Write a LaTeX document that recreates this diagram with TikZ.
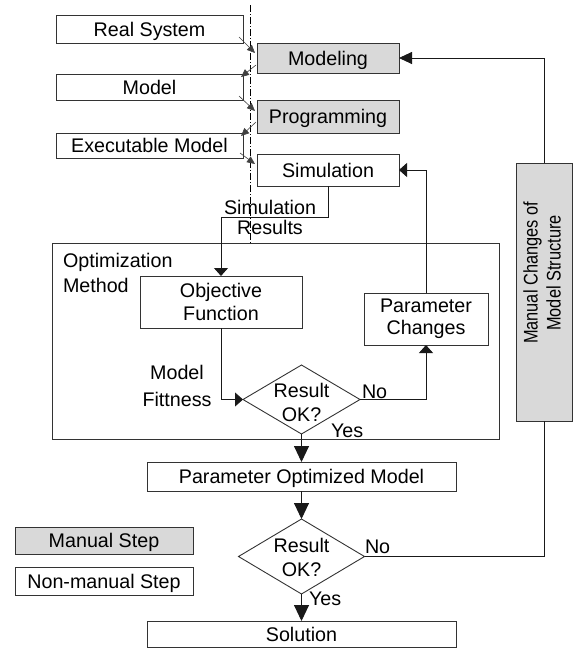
\documentclass[tikz,border=0pt]{standalone}
\usepackage{fontspec}
\setmainfont{Liberation Sans}
\usetikzlibrary{arrows.meta,shapes.geometric,calc}
\definecolor{manualgray}{RGB}{217,217,217}
\newcommand{\fsz}[1]{\fontsize{19.7}{#1}\selectfont}
\begin{document}
\begin{tikzpicture}[x=1pt,y=-1pt,
  every node/.style={font=\fsz{24}, inner sep=0pt, outer sep=0pt},
  box/.style={draw=black!80, line width=1pt, rectangle, align=center},
  onebox/.style={box, text height=14.1pt, text depth=0pt},
  manualone/.style={onebox, fill=manualgray},
  manualbox/.style={box, fill=manualgray},
  decision/.style={draw=black!80, line width=0.9pt, diamond},
  flow/.style={draw=black!90, line width=0.9pt},
  bigtip/.style={-{Triangle[length=16pt,width=15pt]}},
  midtip/.style={-{Triangle[length=13pt,width=12pt]}},
  flattip/.style={-{Triangle[length=8pt,width=14pt]}},
  thinlink/.style={draw=black!75, line width=0.6pt, -{Triangle[length=8pt,width=7pt]}},
  divider/.style={draw=black, line width=0.7pt, dash pattern=on 7pt off 2pt on 1pt off 2pt},
  lbl/.style={align=center}
]
\useasboundingbox (0,0) rectangle (577,651);

% modelling chain
\node[onebox, minimum width=187pt, minimum height=28pt] (rs) at (149.5,29) {Real System};
\node[manualone, minimum width=142pt, minimum height=30pt] (mod) at (328,58) {Modeling};
\node[onebox, minimum width=187pt, minimum height=26pt] (mdl) at (149.5,87) {Model};
\node[manualone, minimum width=142pt, minimum height=33pt] (prog) at (328,116.5) {Programming};
\node[onebox, minimum width=187pt, minimum height=25pt] (exe) at (149.5,145.5) {Executable Model};
\node[onebox, minimum width=142pt, minimum height=32pt] (sim) at (328,170) {Simulation};

% optimization loop
\node[box, minimum width=447pt, minimum height=196pt] (opt) at (275.5,341) {};
\node[box, font=\fsz{23.5}, minimum width=162pt, minimum height=52pt] (obj) at (221,302) {Objective\\Function};
\node[box, font=\fsz{22}, minimum width=124pt, minimum height=52pt] (pc) at (426,319) {Parameter\\Changes};
\node[decision, minimum width=117pt, minimum height=69pt] (d1) at (301.5,399.5) {};
\node[lbl, font=\fsz{24}] (d1txt) at (301.5,402.6) {Result\\OK?};

% final check
\node[onebox, minimum width=309pt, minimum height=29pt] (pom) at (301.5,476.5) {Parameter Optimized Model};
\node[decision, minimum width=126pt, minimum height=75pt] (d2) at (301.5,556.5) {};
\node[lbl, font=\fsz{24}] (d2txt) at (301.5,557.8) {Result\\OK?};
\node[onebox, minimum width=309pt, minimum height=26pt] (sol) at (301.5,634) {Solution};

% manual structure changes
\node[manualbox, minimum width=56pt, minimum height=258pt] (mcs) at (544,292) {};
\node[lbl, rotate=90, font=\fsz{23}] (mcstxt) at (542,273)
  {\scalebox{0.83}[1]{Manual Changes of}\\\scalebox{0.83}[1]{Model Structure}};

% legend
\node[manualone, minimum width=178pt, minimum height=27pt] (lgm) at (104,540.5) {Manual Step};
\node[onebox, minimum width=178pt, minimum height=28pt] (lgn) at (104,581) {Non-manual Step};

% labels
\node[lbl, font=\fsz{20}] (simres) at (270,217.8) {Simulation\\Results};
\node[align=left, anchor=north west, font=\fsz{25}] (optlbl) at (63,253) {Optimization\\Method};
\node[lbl, font=\fsz{27}] (fit) at (177,386) {Model\\Fittness};
\node[anchor=base west] (no1) at (362,398) {No};
\node[anchor=base west] (yes1) at (331,437.5) {Yes};
\node[anchor=base west] (no2) at (365,553) {No};
\node[anchor=base west] (yes2) at (309,605) {Yes};

% manual / automatic divider
\coordinate (divtop) at (250,5);
\draw[divider] (divtop) -- (divtop |- opt.north);

% hand-over links between artefacts and steps
\draw[thinlink] ([shift={(-4,-6)}]rs.south east) -- ([shift={(-2,10)}]mod.north west);
\draw[thinlink] ([shift={(-1,-8)}]mod.south west) -- ([shift={(-2,3)}]mdl.north east);
\draw[thinlink] ([shift={(-4,-4)}]mdl.south east) -- ([shift={(-2,11)}]prog.north west);
\draw[thinlink] ([shift={(-1,-11)}]prog.south west) -- ([shift={(-2,3)}]exe.north east);
\draw[thinlink] ([shift={(-3,-5)}]exe.south east) -- ([shift={(-2,10)}]sim.north west);

% main flow
\draw[flow, flattip] (sim.south) -- ++(0,31) -| (obj.north);
\draw[flow, flattip] (obj.south) |- (d1.west);
\draw[flow, flattip] (d1.east) -| (pc.south);
\draw[flow, flattip] (pc.north) |- (sim.east);
\draw[flow, bigtip] (d1.south) -- (pom.north);
\draw[flow, bigtip] (pom.south) -- (d2.north);
\draw[flow, bigtip] (d2.south) -- (sol.north);
\draw[flow] (d2.east) -| (mcs.south);
\draw[flow, midtip] (mcs.north) |- (mod.east);
\end{tikzpicture}
\end{document}
